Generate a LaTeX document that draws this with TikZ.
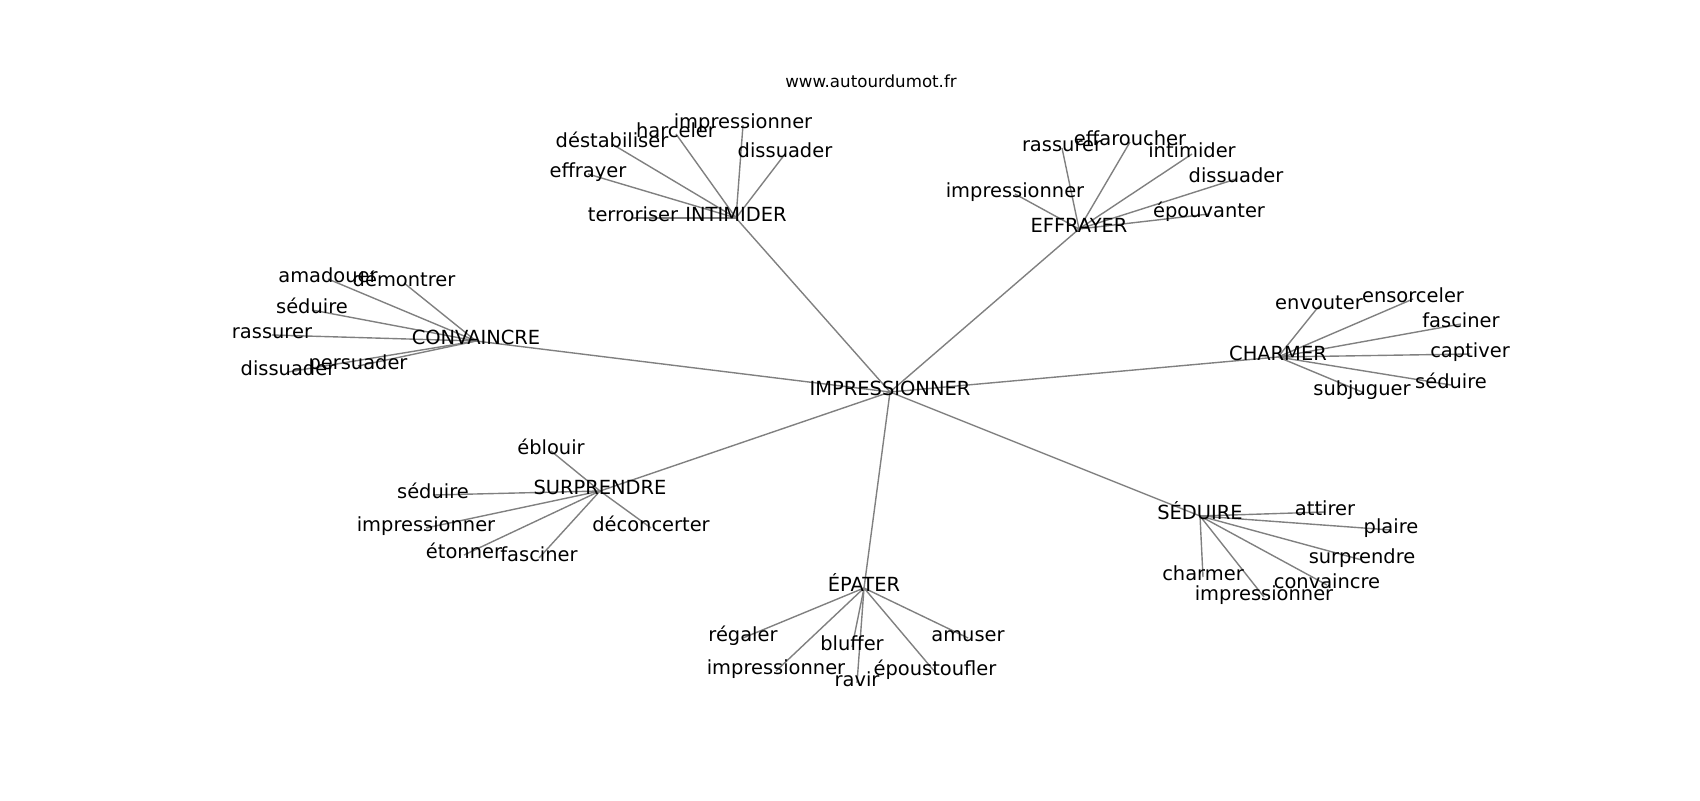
\documentclass[tikz,border=0pt]{standalone}
\usepackage{fontspec}
\setmainfont{DejaVu Sans}
\pgfdeclarelayer{bg}
\pgfsetlayers{bg,main}
\begin{document}
\begin{tikzpicture}[x=0.72pt,y=-0.72pt,
  lbl/.style={inner sep=0pt, text height=0.76em, text depth=0.21em, font=\fontsize{14}{16}\selectfont},
  edge/.style={draw=gray, line width=1pt}]
\begin{pgfonlayer}{bg}
\fill[white] (0,0) rectangle (1700,800);
\end{pgfonlayer}
\useasboundingbox (0,0) rectangle (1700,800);
\node[font=\fontsize{12}{14}\selectfont, anchor=base, inner sep=0pt] (title) at (871,87.3) {www.autourdumot.fr};
% hubs
\node[lbl] (c) at (890,392) {IMPRESSIONNER};
\node[lbl] (i) at (736,218) {INTIMIDER};
\node[lbl] (e) at (1079,229) {EFFRAYER};
\node[lbl] (cv) at (476,341) {CONVAINCRE};
\node[lbl] (ch) at (1278,357) {CHARMER};
\node[lbl] (su) at (600,491) {SURPRENDRE};
\node[lbl] (ep) at (864,588) {ÉPATER};
\node[lbl] (se) at (1200,516) {SÉDUIRE};
% INTIMIDER
\node[lbl] (i1) at (633,218) {terroriser};
\node[lbl] (i2) at (588,174) {effrayer};
\node[lbl] (i3) at (612,144) {déstabiliser};
\node[lbl] (i4) at (676,134) {harceler};
\node[lbl] (i5) at (743,125) {impressionner};
\node[lbl] (i6) at (785,154) {dissuader};
% EFFRAYER
\node[lbl] (e1) at (1062,148) {rassurer};
\node[lbl] (e2) at (1130,142) {effaroucher};
\node[lbl] (e3) at (1192,154) {intimider};
\node[lbl] (e4) at (1236,179) {dissuader};
\node[lbl] (e5) at (1209,214) {épouvanter};
\node[lbl] (e6) at (1015,194) {impressionner};
% CONVAINCRE
\node[lbl] (cv1) at (328,279) {amadouer};
\node[lbl] (cv2) at (404,283) {démontrer};
\node[lbl] (cv3) at (312,310) {séduire};
\node[lbl] (cv4) at (272,335) {rassurer};
\node[lbl] (cv5) at (358,366) {persuader};
\node[lbl] (cv6) at (288,372) {dissuader};
% CHARMER
\node[lbl] (ch1) at (1319,306) {envouter};
\node[lbl] (ch2) at (1413,299) {ensorceler};
\node[lbl] (ch3) at (1461,324) {fasciner};
\node[lbl] (ch4) at (1470,354) {captiver};
\node[lbl] (ch5) at (1451,385) {séduire};
\node[lbl] (ch6) at (1362,392) {subjuguer};
% SURPRENDRE
\node[lbl] (su1) at (551,451) {éblouir};
\node[lbl] (su2) at (433,495) {séduire};
\node[lbl] (su3) at (426,528) {impressionner};
\node[lbl] (su4) at (651,528) {déconcerter};
\node[lbl] (su5) at (464,555) {étonner};
\node[lbl] (su6) at (539,558) {fasciner};
% EPATER
\node[lbl] (ep1) at (743,638) {régaler};
\node[lbl] (ep2) at (852,647) {bluffer};
\node[lbl] (ep3) at (968,638) {amuser};
\node[lbl] (ep4) at (776,671) {impressionner};
\node[lbl] (ep5) at (935,672) {époustoufler};
\node[lbl] (ep6) at (857,683) {ravir};
% SEDUIRE
\node[lbl] (se1) at (1325,512) {attirer};
\node[lbl] (se2) at (1391,530) {plaire};
\node[lbl] (se3) at (1362,560) {surprendre};
\node[lbl] (se4) at (1203,577) {charmer};
\node[lbl] (se5) at (1327,585) {convaincre};
\node[lbl] (se6) at (1264,597) {impressionner};
\begin{pgfonlayer}{bg}
\foreach \h in {i,e,cv,ch,su,ep,se}{
  \draw[edge] (c.center) -- (\h.center);
  \foreach \k in {1,...,6}{
    \draw[edge] (\h.center) -- (\h\k.center);
  }
}
\end{pgfonlayer}
\end{tikzpicture}
\end{document}
